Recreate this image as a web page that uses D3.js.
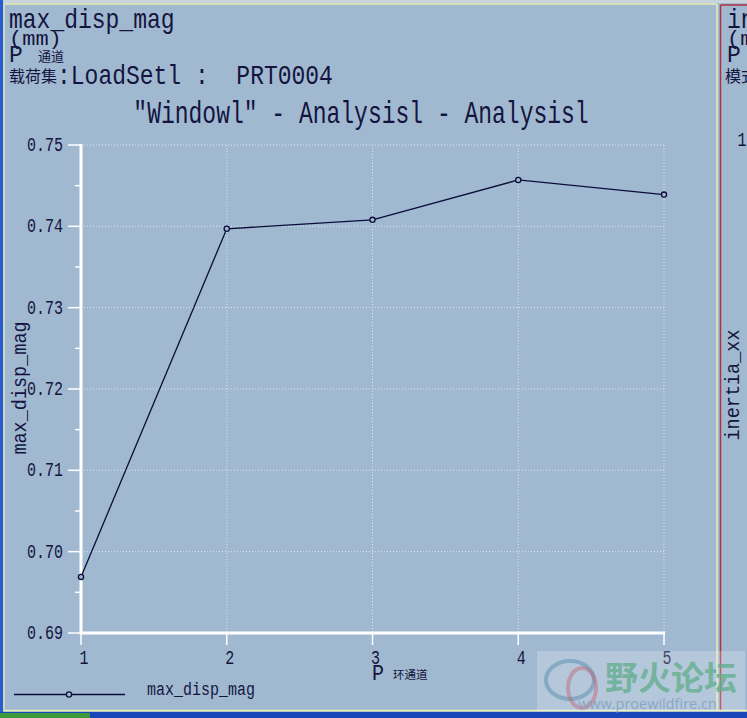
<!DOCTYPE html>
<html><head><meta charset="utf-8">
<script src="https://cdn.jsdelivr.net/npm/d3@7"></script>
<style>
html,body{margin:0;padding:0;background:#a0b9d1;overflow:hidden}
svg{display:block}
text{font-family:"Liberation Mono","DejaVu Sans Mono",monospace;fill:#14143e}
.cjk{font-family:"Noto Sans CJK SC",sans-serif}
</style></head><body>
<script>
// ---- data ----
const xValues = [1, 2, 3, 4, 5];
const maxDispMag = [0.6969, 0.7397, 0.7408, 0.7457, 0.7439];
const yTicks = [0.69, 0.70, 0.71, 0.72, 0.73, 0.74, 0.75];
const yTickLabels = ["0.69", "0.70", "0.71", "0.72", "0.73", "0.74", "0.75"];
const yMinorTicks = [0.695, 0.705, 0.715, 0.725, 0.735, 0.745];
const xTickLabels = ["1", "2", "3", "4", "5"];
const headerLines = ["max_disp_mag", "(mm)", "P", "载荷集:LoadSetl : PRT0004"];
const chartTitle = '"Windowl" - Analysisl - Analysisl';
const yTitle = "max_disp_mag";
const xTitle = "P";
const xTitleCjk = "环通道";
const seriesName = "max_disp_mag";

const W = 747, H = 718;
const svg = d3.select("body").append("svg").attr("width", W).attr("height", H);
const bg = "#a0b9d1";
svg.append("rect").attr("width", W).attr("height", H).attr("fill", bg);

// window frame
svg.append("rect").attr("x", 0).attr("y", 0).attr("width", W).attr("height", 3).attr("fill", "#c9d3dc");
svg.append("rect").attr("x", 0).attr("y", 0).attr("width", 3).attr("height", H).attr("fill", "#2a5bd4");
svg.append("line").attr("x1", 4).attr("x2", 717).attr("y1", 4).attr("y2", 4).attr("stroke", "#e6eeb0").attr("stroke-width", 1.5);
svg.append("line").attr("x1", 4).attr("x2", 4).attr("y1", 4).attr("y2", 711).attr("stroke", "#d6e6b0").attr("stroke-width", 1.5);
svg.append("line").attr("x1", 717).attr("x2", 717).attr("y1", 4).attr("y2", 711).attr("stroke", "#e6eeb0").attr("stroke-width", 1.5);
svg.append("line").attr("x1", 720.5).attr("x2", 720.5).attr("y1", 5).attr("y2", 711).attr("stroke", "#b03040").attr("stroke-width", 1.5);
svg.append("line").attr("x1", 720.5).attr("x2", W).attr("y1", 5).attr("y2", 5).attr("stroke", "#b03040").attr("stroke-width", 1.5);
svg.append("line").attr("x1", 4).attr("x2", W).attr("y1", 710.5).attr("y2", 710.5).attr("stroke", "#e6eeb0").attr("stroke-width", 1.5);
svg.append("rect").attr("x", 0).attr("y", 712).attr("width", W).attr("height", 6).attr("fill", "#1646b8");
svg.append("rect").attr("x", 0).attr("y", 713).attr("width", 90).attr("height", 5).attr("fill", "#3c9a3c");

// helper for tall narrow text
function stext(g, x, y, str, size, sy, anchor, cls) {
  const t = g.append("text")
    .attr("transform", `translate(${x},${y}) scale(1,${sy})`)
    .attr("font-size", size)
    .attr("text-anchor", anchor || "start")
    .text(str);
  if (cls) t.attr("class", cls);
  return t;
}

// header
stext(svg, 9, 28, headerLines[0], 23, 1.18);
stext(svg, 9, 45, headerLines[1], 22, 0.9);
stext(svg, 9, 62, headerLines[2], 23, 1.05);
svg.append("text").attr("class", "cjk").attr("x", 38).attr("y", 61).attr("font-size", 13).text("通道");
svg.append("text").attr("class", "cjk").attr("x", 9).attr("y", 82).attr("font-size", 16).text("载荷集");
stext(svg, 57, 84, ":LoadSetl :  PRT0004", 23, 1.2).attr("xml:space", "preserve").style("white-space", "pre");

// title
stext(svg, 361, 123, chartTitle, 23, 1.35, "middle");

// scales
const x = d3.scaleLinear().domain([1, 5]).range([81, 664]);
const y = d3.scaleLinear().domain([0.69, 0.75]).range([633, 145]);

// gridlines (dotted)
const grid = svg.append("g");
grid.selectAll(".hg").data(yTicks.slice(1)).join("line")
  .attr("x1", x(1)).attr("x2", x(5)).attr("y1", d => y(d)).attr("y2", d => y(d))
  .attr("stroke", "#dde6ee").attr("stroke-width", 1).attr("stroke-dasharray", "1,2");
grid.selectAll(".vg").data(xValues.slice(1)).join("line")
  .attr("x1", d => x(d)).attr("x2", d => x(d)).attr("y1", y(0.75)).attr("y2", y(0.69))
  .attr("stroke", "#dde6ee").attr("stroke-width", 1).attr("stroke-dasharray", "1,2");

// axes (white)
const axG = svg.append("g").attr("stroke", "#ffffff");
axG.append("line").attr("x1", x(1)).attr("x2", x(1)).attr("y1", y(0.75) - 1).attr("y2", y(0.69) + 1.5).attr("stroke-width", 3);
axG.append("line").attr("x1", x(1)).attr("x2", x(5) + 1).attr("y1", y(0.69)).attr("y2", y(0.69)).attr("stroke-width", 3);
axG.selectAll(".ymaj").data(yTicks).join("line")
  .attr("x1", 68).attr("x2", x(1)).attr("y1", d => y(d)).attr("y2", d => y(d)).attr("stroke-width", 1.5);
axG.selectAll(".ymin").data(yMinorTicks).join("line")
  .attr("x1", 75).attr("x2", x(1)).attr("y1", d => y(d)).attr("y2", d => y(d)).attr("stroke-width", 1.5);
axG.selectAll(".xt").data(xValues).join("line")
  .attr("x1", d => x(d)).attr("x2", d => x(d)).attr("y1", y(0.69)).attr("y2", y(0.69) + 12).attr("stroke-width", 1.5);

// tick labels
yTicks.forEach((d, i) => stext(svg, 63, y(d) + 6, yTickLabels[i], 15, 1.35, "end"));
xValues.forEach((d, i) => stext(svg, x(d) + 3, 664, xTickLabels[i], 15, 1.35, "middle"));

// axis titles
const yt = svg.append("g").attr("transform", "translate(26,388) rotate(-90)");
stext(yt, 0, 0, yTitle, 18.5, 1.1, "middle");
stext(svg, 372, 680, xTitle, 20, 1.1);
svg.append("text").attr("class", "cjk").attr("x", 393).attr("y", 679).attr("font-size", 11.5).text(xTitleCjk);

// series line
const line = d3.line().x((d, i) => x(xValues[i])).y(d => y(d));
svg.append("path").datum(maxDispMag).attr("d", line)
  .attr("fill", "none").attr("stroke", "#0c0c3a").attr("stroke-width", 1.3);
svg.selectAll(".pt").data(maxDispMag).join("circle")
  .attr("cx", (d, i) => x(xValues[i])).attr("cy", d => y(d)).attr("r", 2.6)
  .attr("fill", bg).attr("stroke", "#0c0c3a").attr("stroke-width", 1.3);

// legend
svg.append("line").attr("x1", 14).attr("x2", 125).attr("y1", 694.5).attr("y2", 694.5).attr("stroke", "#0c0c3a").attr("stroke-width", 1.3);
svg.append("circle").attr("cx", 69).attr("cy", 694.5).attr("r", 2.6).attr("fill", bg).attr("stroke", "#0c0c3a").attr("stroke-width", 1.3);
stext(svg, 147, 695, seriesName, 15, 1.2);

// right neighbour panel (cut off at the window edge)
stext(svg, 727, 28, "in", 23, 1.18);
stext(svg, 727, 45, "(m", 22, 0.9);
stext(svg, 727, 62, "P", 23, 1.05);
svg.append("text").attr("class", "cjk").attr("x", 725).attr("y", 82).attr("font-size", 16).text("模式");
const rt = svg.append("g").attr("transform", "translate(739,385) rotate(-90)");
stext(rt, 0, 0, "inertia_xx", 18.5, 1.1, "middle");
stext(svg, 742, 146, "1", 15, 1.35, "middle");

// watermark
const wm = svg.append("g");
wm.append("rect").attr("x", 537).attr("y", 651).attr("width", 208).attr("height", 60).attr("fill", "#ffffff").attr("opacity", 0.22);
wm.append("ellipse").attr("cx", 570).attr("cy", 680).attr("rx", 24).attr("ry", 19).attr("fill", "none").attr("stroke", "#5f8fb0").attr("stroke-width", 4).attr("opacity", 0.55);
wm.append("ellipse").attr("cx", 582).attr("cy", 688).attr("rx", 14).attr("ry", 20).attr("fill", "none").attr("stroke", "#c06070").attr("stroke-width", 4).attr("opacity", 0.45);
wm.append("text").attr("class", "cjk").attr("x", 605).attr("y", 690).attr("font-size", 33).attr("font-weight", 700)
  .style("fill", "#5fae8c").attr("opacity", 0.75).text("野火论坛");
wm.append("text").attr("x", 578).attr("y", 709).attr("font-size", 14.5)
  .style("font-family", "'Open Sans',sans-serif").style("fill", "#7f9fbf").attr("opacity", 0.8).text("www.proewildfire.cn");
</script>
</body></html>
